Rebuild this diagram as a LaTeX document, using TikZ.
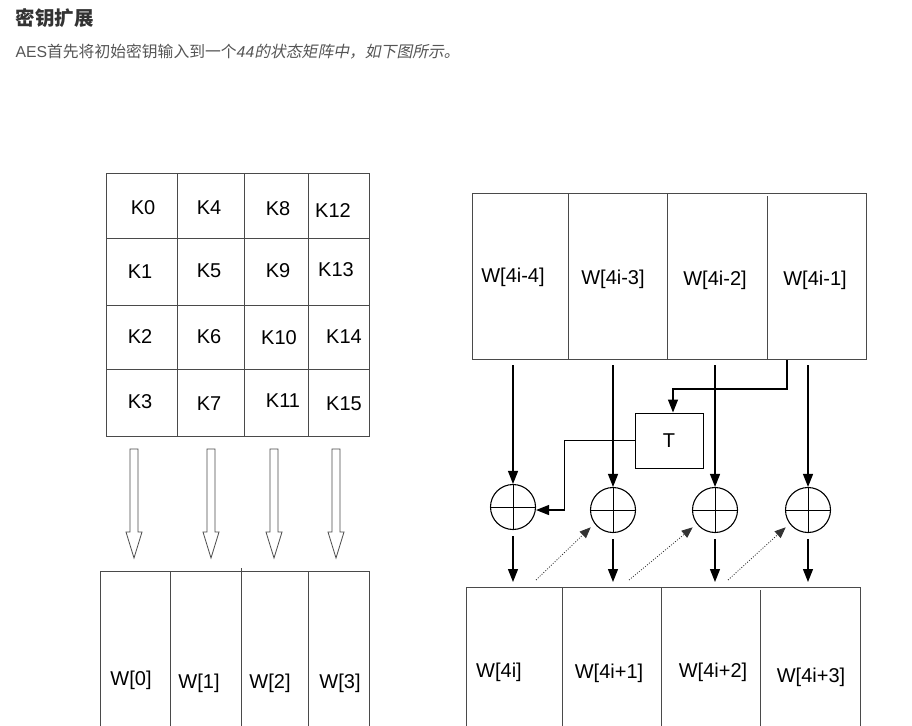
\documentclass[tikz,border=0pt]{standalone}
\usepackage{fontspec}
\setmainfont{Liberation Sans}
\newfontfamily\cjk{Noto Sans CJK SC}
\newfontfamily\cjkslant[FakeSlant=0.2]{Noto Sans CJK SC}
\usetikzlibrary{arrows.meta,calc}
\definecolor{boxgray}{HTML}{4A4A4A}
\definecolor{headgray}{HTML}{333333}
\definecolor{textgray}{HTML}{555555}

\begin{document}
\begin{tikzpicture}[x=1pt,y=-1pt,>={Triangle[length=13pt,width=10pt]},
  cell/.style={font=\fontsize{20}{20}\selectfont,inner sep=0pt},
  box/.style={draw=boxgray,line width=1pt,inner sep=0pt},
  xorc/.style={circle,draw=black,line width=1.1pt,minimum size=45pt,inner sep=0pt,
    path picture={\draw[line width=0.8pt]
      (path picture bounding box.north) -- (path picture bounding box.south)
      (path picture bounding box.west) -- (path picture bounding box.east);}},
  tbox/.style={draw=black,line width=1pt,minimum width=68pt,minimum height=55pt,
    font=\fontsize{20}{20}\selectfont},
  conn/.style={->,line width=1.2pt},
  hint/.style={-{Triangle[length=11pt,width=9pt]},draw=black!80,
    dash pattern=on 1pt off 1.6pt,line width=0.8pt},
  bigarrow/.style={draw=boxgray,line width=0.8pt,fill=white}]
  \useasboundingbox (0,0) rectangle (912,725);
  \clip (0,0) rectangle (912,725);
  % heading
  \node[anchor=west,text=headgray,font=\cjk\bfseries\fontsize{19.5}{20}\selectfont]
    (title) at (12,18) {密钥扩展};
  \node[anchor=west,text=textgray,font=\fontsize{15.8}{16}\selectfont] (intro) at (12,52)
    {AES{\cjk 首先将初始密钥输入到一个}{\itshape 44}{\cjkslant 的状态矩阵中，如下图所示。}};
  % key matrix
  \node[box,minimum width=263pt,minimum height=263pt] (keys) at (237.5,304.5) {};
  \foreach \cx in {177,244,308} \draw[box] (\cx,173) -- (\cx,436);
  \foreach \ry in {238,305,369} \draw[box] (106,\ry) -- (369,\ry);
  \foreach \n/\px/\py in {0/143/208,4/209/208,8/278/209,12/333/211,
      1/140/272,5/209/271,9/278/271,13/336/270,
      2/140/337,6/209/337,10/279/338,14/344/337,
      3/140/402,7/209/404,11/283/401,15/344/404}
    \node[cell] (k\n) at (\px,\py) {K\n};
  % big arrows
  \foreach \bx in {134,211,274,336}
    \draw[bigarrow] (\bx-4,449) -- (\bx+4,449) -- (\bx+4,532) -- (\bx+8,532)
      -- (\bx,558) -- (\bx-8,532) -- (\bx-4,532) -- cycle;
  % first words
  \node[box,anchor=north west,minimum width=269pt,minimum height=180pt] (wfirst) at (100,571) {};
  \foreach \cx/\ya in {170/571,241/568,308/571} \draw[box] (\cx,\ya) -- (\cx,740);
  \foreach \lbl/\px/\py in {0/131/680,1/199/683,2/270/683,3/340/683}
    \node[cell] (w\lbl) at (\px,\py) {W[\lbl]};
  % previous words
  \node[box,anchor=north west,minimum width=394pt,minimum height=166pt] (wold) at (472,193) {};
  \foreach \cx/\ya in {568/193,667/193,767/196} \draw[box] (\cx,\ya) -- (\cx,359);
  \foreach \lbl/\px/\py [count=\i] in {4i-4/513/277,4i-3/613/279,4i-2/715/280,4i-1/815/280}
    \node[cell] (wo\i) at (\px,\py) {W[\lbl]};
  % new words
  \node[box,anchor=north west,minimum width=394pt,minimum height=160pt] (wnew) at (466,587) {};
  \foreach \cx/\ya in {562/587,661/587,760/590} \draw[box] (\cx,\ya) -- (\cx,740);
  \foreach \lbl/\px/\py [count=\i] in {4i/499/672,4i+1/609/673,4i+2/713/672,4i+3/811/677}
    \node[cell] (wn\i) at (\px,\py) {W[\lbl]};
  % xor and T
  \foreach \n/\px/\py in {1/513/507,2/613/510,3/715/510,4/808/510}
    \node[xorc] (x\n) at (\px,\py) {};
  \node[tbox] (T) at (669,440.5) {T};
  \foreach \n in {1,...,4} {
    \draw[conn] ($(x\n |- wold.south)+(0,5)$) -- (x\n.north);
    \draw[conn] ($(x\n.south)+(0,6)$) -- ($(x\n |- wnew.north)+(0,-5)$);
  }
  \draw[conn] ($(wold.south east)+(-80,0)$) -- ++(0,29) -| ($(T.north)+(4,0)$);
  \draw[conn] (T.west) -- ++(-70,0) |- ($(x1.east)+(0,3)$);
  \foreach \n/\m/\dx in {1/2/23,2/3/16,3/4/13}
    \draw[hint] ($(x\n |- wnew.north)+(\dx,-7)$) -- ($(x\m.south west)+(-6,1)$);
\end{tikzpicture}
\end{document}
